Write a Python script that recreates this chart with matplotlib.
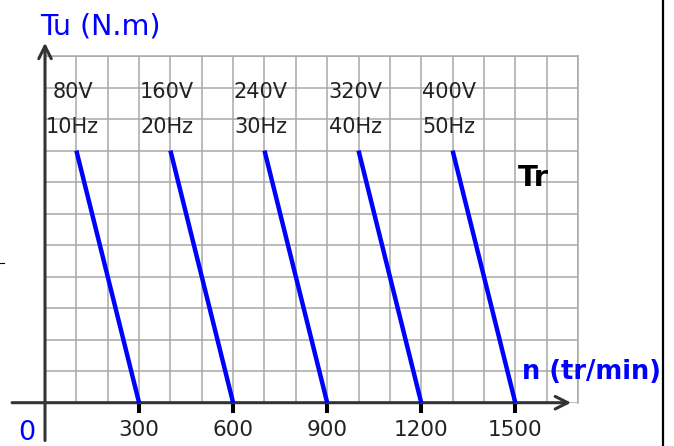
import matplotlib
matplotlib.use("Agg")
from matplotlib import pyplot as plt
from matplotlib.lines import Line2D
import numpy as np

# synchronous speeds (tr/min) and start points of each Tu(n) segment
n_sync = [300, 600, 900, 1200, 1500]
n_start = [100, 400, 700, 1000, 1300]
tu_start = 8
volts = ["80V", "160V", "240V", "320V", "400V"]
freqs = ["10Hz", "20Hz", "30Hz", "40Hz", "50Hz"]
label_x = [88, 389, 688, 990, 1288]

BLUE = "#0000ff"
AXC = "#333333"
GRIDC = "#a8a8a8"
TXT = "#222222"

plt.rcParams['font.family'] = ['DejaVu Sans']

fig = plt.figure(figsize=(6.74, 4.46), dpi=100)
ax = fig.add_axes([45 / 674, (446 - 402.7) / 446, 533 / 674, 346.7 / 446])
ax.set_xlim(0, 1700)
ax.set_ylim(0, 11)

# grid
ax.set_xticks(n_sync)
ax.set_xticklabels([str(v) for v in n_sync], fontsize=15.5, color=TXT)
ax.set_xticks(np.arange(0, 1701, 100), minor=True)
ax.set_yticks(np.arange(0, 12, 1))
ax.set_yticklabels([])
ax.grid(which='both', color=GRIDC, lw=1.1)
ax.tick_params(axis='x', which='major', direction='out', length=7.2, width=2.9,
               color='black', pad=5.5)
ax.tick_params(axis='x', which='minor', length=0)
ax.tick_params(axis='y', length=0)
for s in ['left', 'bottom']:
    ax.spines[s].set_visible(False)
for s in ['top', 'right']:
    ax.spines[s].set_color(GRIDC)
    ax.spines[s].set_linewidth(1.1)

# axes arrows
ax.annotate("", xy=(1678, 0), xytext=(-105, 0),
            arrowprops=dict(arrowstyle="->,head_length=0.9,head_width=0.45",
                            color=AXC, lw=2.2, shrinkA=0, shrinkB=0),
            annotation_clip=False, zorder=4)
ax.annotate("", xy=(0, 11.42), xytext=(0, -1.2),
            arrowprops=dict(arrowstyle="->,head_length=0.9,head_width=0.45",
                            color=AXC, lw=2.2, shrinkA=0, shrinkB=0),
            annotation_clip=False, zorder=4)

# Tu(n) segments
for a, b in zip(n_start, n_sync):
    ax.plot([a, b], [tu_start, 0], color=BLUE, lw=3.2, solid_capstyle='butt',
            clip_on=False, zorder=5)

for x, v, f in zip(label_x, volts, freqs):
    ax.text(x, 9.86, v, ha='center', va='center', fontsize=15, color=TXT, zorder=6)
    ax.text(x, 8.75, f, ha='center', va='center', fontsize=15, color=TXT, zorder=6)

ax.text(1557, 7.13, "Tr", ha='center', va='center', fontsize=21,
        fontweight='bold', color='black', zorder=6)
ax.text(1521, 0.96, "n (tr/min)", ha='left', va='center', fontsize=18.5,
        fontweight='bold', color=BLUE, zorder=6, clip_on=False)
ax.text(-16, 11.93, "Tu (N.m)", ha='left', va='center', fontsize=20.5,
        color=BLUE, zorder=6, clip_on=False)
ax.text(-59, -0.97, "0", ha='center', va='center', fontsize=19.5,
        color=BLUE, zorder=6, clip_on=False)

# frame line on the right and small mark on the left
fig.add_artist(Line2D([662.5 / 674, 662.5 / 674], [0, 1], color='black', lw=1.6))
fig.add_artist(Line2D([0, 4 / 674], [1 - 263 / 446, 1 - 263 / 446], color='black', lw=0.8))

fig.savefig("out.png", dpi=100)
